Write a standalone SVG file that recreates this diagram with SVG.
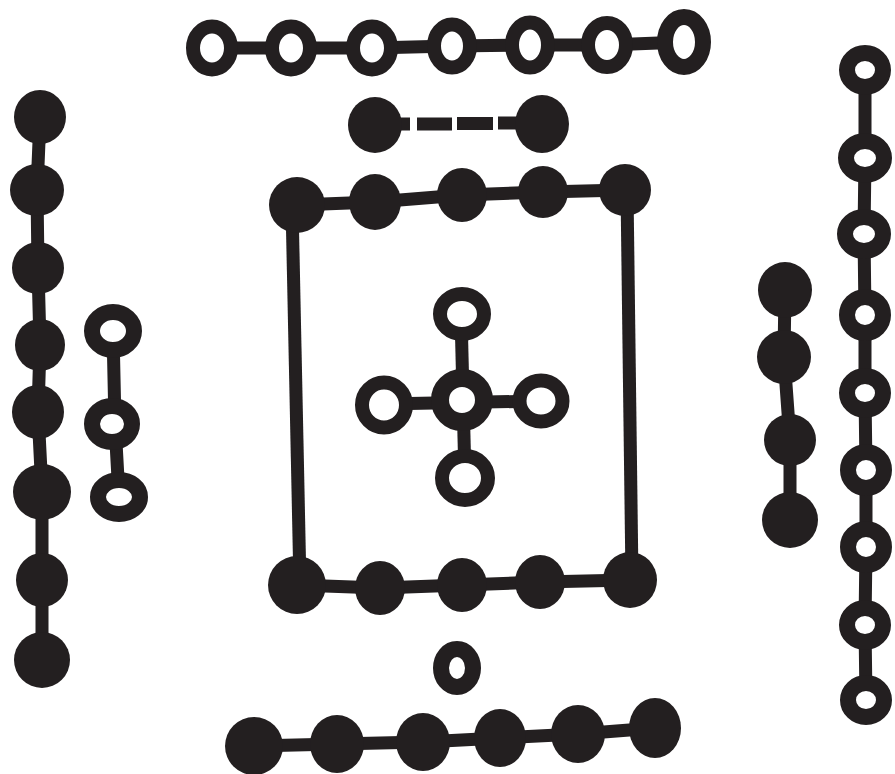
<svg xmlns="http://www.w3.org/2000/svg" width="895" height="774" viewBox="0 0 895 774">
<style>
.dot{fill:#231f20}
.ring{fill:#fff;stroke:#231f20;stroke-width:14}
.ringT{fill:#fff;stroke:#231f20;stroke-width:16}
.bar{stroke:#231f20;stroke-width:13;fill:none}
</style>
<rect width="895" height="774" fill="#fff"/>
<g id="connectors">
<polyline class="bar" points="212,48 291,48 372,48 452,46 530,45 607,45 684,42"/>
<path class="bar" d="M395,124 H410 M417,124 H452 M457,123.5 H493 M498,123 H520" stroke-width="12"/>
<polyline class="bar" points="40,117 37,190 38,268 40,345 38,412 42,492 42,580 42,660"/>
<polyline class="bar" stroke-width="12" points="113,331 115,424 119,497"/>
<polyline class="bar" points="297,205 375,202 462,195 543,192 625,190"/>
<polyline class="bar" points="297,585 380,588 462,585 540,582 630,580"/>
<line class="bar" x1="292" y1="205" x2="300" y2="585"/>
<line class="bar" x1="627" y1="190" x2="632" y2="580"/>
<line class="bar" x1="461" y1="314" x2="465" y2="478"/>
<line class="bar" x1="384" y1="404" x2="541" y2="401"/>
<polyline class="bar" points="785,290 784,357 790,440 790,520"/>
<polyline class="bar" stroke-width="15" points="865,70 865,158 864,234 865,315 865,393 866,470 866,547 865,625 866,700"/>
<polyline class="bar" stroke-width="15" points="254,746 337,744 423,742 500,738 578,734 655,728"/>
</g>
<g id="top-row">
<g id="t1"><ellipse class="ring" cx="212" cy="48" rx="19" ry="21.5"/></g>
<g id="t2"><ellipse class="ring" cx="291" cy="48" rx="19" ry="21.5"/></g>
<g id="t3"><ellipse class="ring" cx="372" cy="48" rx="19" ry="21.5"/></g>
<g id="t4"><ellipse class="ring" cx="452" cy="46" rx="18" ry="21.5"/></g>
<g id="t5"><ellipse class="ring" cx="530" cy="45" rx="18" ry="22.5"/></g>
<g id="t6"><ellipse class="ring" cx="607" cy="45" rx="19" ry="22"/></g>
<g id="t7"><ellipse class="ringT" cx="684" cy="42" rx="19" ry="25"/></g>
</g>
<g id="dashed-pair">
<g id="d1"><ellipse class="dot" cx="375" cy="125" rx="27" ry="28"/></g>
<g id="d2"><ellipse class="dot" cx="542" cy="124" rx="27" ry="29"/></g>
</g>
<g id="left-col">
<g id="l1"><ellipse class="dot" cx="40" cy="117" rx="26" ry="27"/></g>
<g id="l2"><ellipse class="dot" cx="37" cy="190" rx="27" ry="26"/></g>
<g id="l3"><ellipse class="dot" cx="38" cy="268" rx="26" ry="26"/></g>
<g id="l4"><ellipse class="dot" cx="40" cy="345" rx="25" ry="26"/></g>
<g id="l5"><ellipse class="dot" cx="38" cy="412" rx="26" ry="27"/></g>
<g id="l6"><ellipse class="dot" cx="42" cy="492" rx="29" ry="28"/></g>
<g id="l7"><ellipse class="dot" cx="42" cy="580" rx="26" ry="27"/></g>
<g id="l8"><ellipse class="dot" cx="42" cy="660" rx="28" ry="28"/></g>
</g>
<g id="left-small">
<g id="s1"><ellipse class="ringT" cx="113" cy="331" rx="21" ry="19"/></g>
<g id="s2"><ellipse class="ringT" cx="112" cy="424" rx="20" ry="18"/></g>
<g id="s3"><ellipse class="ringT" cx="119" cy="497" rx="21" ry="17"/></g>
</g>
<g id="box-top">
<g id="bt1"><ellipse class="dot" cx="297" cy="205" rx="28" ry="28"/></g>
<g id="bt2"><ellipse class="dot" cx="375" cy="202" rx="26" ry="28"/></g>
<g id="bt3"><ellipse class="dot" cx="462" cy="195" rx="25" ry="27"/></g>
<g id="bt4"><ellipse class="dot" cx="543" cy="192" rx="25" ry="26"/></g>
<g id="bt5"><ellipse class="dot" cx="625" cy="190" rx="26" ry="26"/></g>
</g>
<g id="box-bottom">
<g id="bb1"><ellipse class="dot" cx="297" cy="585" rx="29" ry="29"/></g>
<g id="bb2"><ellipse class="dot" cx="380" cy="588" rx="25" ry="27"/></g>
<g id="bb3"><ellipse class="dot" cx="462" cy="585" rx="25" ry="27"/></g>
<g id="bb4"><ellipse class="dot" cx="540" cy="582" rx="25" ry="27"/></g>
<g id="bb5"><ellipse class="dot" cx="630" cy="580" rx="27" ry="28"/></g>
</g>
<g id="cross">
<g id="c0"><ellipse cx="462" cy="400" rx="22" ry="22" fill="#fff" stroke="#231f20" stroke-width="18"/></g>
<g id="cN"><ellipse class="ring" cx="462" cy="314" rx="22" ry="20"/></g>
<g id="cW"><ellipse class="ring" cx="384" cy="405" rx="22" ry="22.5"/></g>
<g id="cE"><ellipse class="ring" cx="541" cy="401" rx="21.5" ry="20.5"/></g>
<g id="cS"><ellipse class="ring" cx="465" cy="478" rx="23" ry="22"/></g>
</g>
<g id="small-center"><ellipse cx="457" cy="668" rx="16" ry="19" fill="#fff" stroke="#231f20" stroke-width="16"/></g>
<g id="right-black">
<g id="rb1"><ellipse class="dot" cx="785" cy="290" rx="27" ry="28"/></g>
<g id="rb2"><ellipse class="dot" cx="784" cy="357" rx="27" ry="27"/></g>
<g id="rb3"><ellipse class="dot" cx="790" cy="440" rx="26" ry="26"/></g>
<g id="rb4"><ellipse class="dot" cx="790" cy="520" rx="28" ry="28"/></g>
</g>
<g id="right-open">
<g id="r1"><ellipse class="ringT" cx="865" cy="70" rx="18" ry="17"/></g>
<g id="r2"><ellipse class="ringT" cx="865" cy="158" rx="19" ry="17"/></g>
<g id="r3"><ellipse class="ringT" cx="864" cy="234" rx="19" ry="17"/></g>
<g id="r4"><ellipse class="ringT" cx="865" cy="315" rx="18" ry="18"/></g>
<g id="r5"><ellipse class="ringT" cx="865" cy="393" rx="18" ry="17"/></g>
<g id="r6"><ellipse class="ringT" cx="866" cy="470" rx="18" ry="18"/></g>
<g id="r7"><ellipse class="ringT" cx="866" cy="547" rx="18" ry="18"/></g>
<g id="r8"><ellipse class="ringT" cx="865" cy="625" rx="18" ry="17"/></g>
<g id="r9"><ellipse class="ringT" cx="866" cy="700" rx="18" ry="17"/></g>
</g>
<g id="bottom-row">
<g id="b1"><ellipse class="dot" cx="254" cy="746" rx="29" ry="29"/></g>
<g id="b2"><ellipse class="dot" cx="337" cy="744" rx="27" ry="29"/></g>
<g id="b3"><ellipse class="dot" cx="423" cy="742" rx="27" ry="29"/></g>
<g id="b4"><ellipse class="dot" cx="500" cy="738" rx="26" ry="29"/></g>
<g id="b5"><ellipse class="dot" cx="578" cy="734" rx="27" ry="29"/></g>
<g id="b6"><ellipse class="dot" cx="655" cy="728" rx="26" ry="30"/></g>
</g>
</svg>
